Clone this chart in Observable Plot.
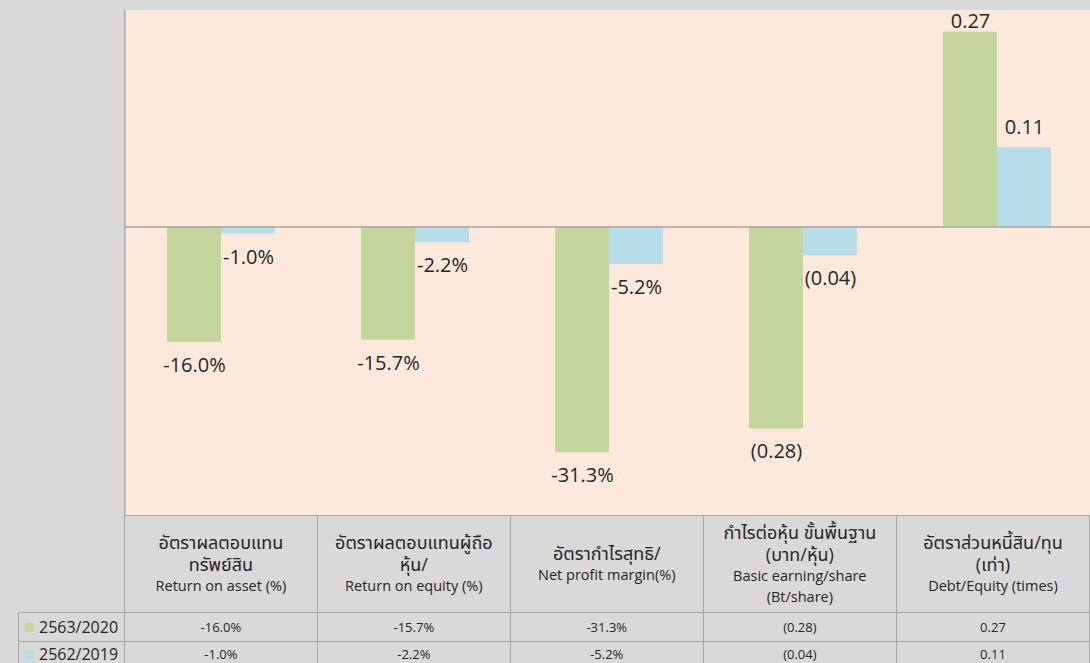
<!DOCTYPE html>
<html>
<head>
<meta charset="utf-8">
<script src="https://cdn.jsdelivr.net/npm/d3@7"></script>
<script src="https://cdn.jsdelivr.net/npm/@observablehq/plot@0.6"></script>
<style>
  html, body { margin: 0; padding: 0; }
  body { width: 1090px; height: 663px; overflow: hidden; background: #d9d9d9; position: relative;
         font-family: "Open Sans", "Noto Sans", "Noto Sans Thai", sans-serif; color: #262626; }
  #plotarea { position: absolute; left: 124px; top: 10px; width: 970px; height: 505px;
              background: #fde9db; box-shadow: inset 1.5px 0 0 #a6a6a6; }
  #plotarea svg { display: block; overflow: visible; }
  #tbl { position: absolute; left: 18px; top: 515px; border-collapse: collapse; table-layout: fixed; }
  #tbl td { border: 1.3px solid #a6a6a6; text-align: center; vertical-align: middle; padding: 0; }
  #tbl td.blank { border: none; border-right: 1.3px solid #a6a6a6; }
  #tbl tr.head td { height: 96px; }
  #tbl tr.row td { height: 28px; font-size: 13px; }
  #tbl tr.row.last td { height: 24px; }
  #tbl tr.row td.leg { text-align: left; padding-left: 6px; font-size: 16px; white-space: nowrap; }
  .sw { display: inline-block; width: 9px; height: 9px; margin-right: 5px; vertical-align: 1px; }
  .th { font-size: 18px; line-height: 22px; display: block; font-weight: normal; }
  .en { font-size: 14.5px; line-height: 21.5px; display: block; }
</style>
</head>
<body>
<div id="plotarea"></div>
<table id="tbl"></table>
<script>
// ---- data ----
const categoriesEn = ["Return on asset (%)", "Return on equity (%)", "Net profit margin(%)", "Basic earning/share", "Debt/Equity (times)"];
const headerThai = [["อัตราผลตอบแทน", "ทรัพย์สิน"], ["อัตราผลตอบแทนผู้ถือ", "หุ้น/"], ["อัตรากำไรสุทธิ/"], ["กำไรต่อหุ้น ขั้นพื้นฐาน", "(บาท/หุ้น)"], ["อัตราส่วนหนี้สิน/ทุน", "(เท่า)"]];
const headerEnExtra = [[], [], [], ["(Bt/share)"], []];
const series = ["2563/2020", "2562/2019"];
const values2020 = [-0.160, -0.157, -0.313, -0.28, 0.27];
const values2019 = [-0.010, -0.022, -0.052, -0.04, 0.11];
const labels2020 = ["-16.0%", "-15.7%", "-31.3%", "(0.28)", "0.27"];
const labels2019 = ["-1.0%", "-2.2%", "-5.2%", "(0.04)", "0.11"];
const colors = ["#c4d69b", "#b7dee8"];

const data = [];
categoriesEn.forEach((c, i) => {
  data.push({cat: c, series: series[0], value: values2020[i], label: labels2020[i]});
  data.push({cat: c, series: series[1], value: values2019[i], label: labels2019[i]});
});

const chart = Plot.plot({
  width: 970,
  height: 505,
  margin: 0,
  fx: {domain: categoriesEn, padding: 0, axis: null},
  x: {domain: series, paddingInner: 0, paddingOuter: 0.764, axis: null},
  y: {domain: [-0.4, 0.3], axis: null},
  color: {domain: series, range: colors},
  style: {background: "transparent", overflow: "visible"},
  marks: [
    Plot.barY(data, {fx: "cat", x: "series", y: "value", fill: "series"}),
    Plot.ruleY([0], {stroke: "#a6a6a6", strokeWidth: 1.5}),
    Plot.text(data, {
      fx: "cat", x: "series",
      y: d => d.value < 0 ? d.value - 0.032 : Math.min(d.value + 0.028, 0.285),
      text: "label", fill: "#262626", fontSize: 20,
      fontFamily: "'Open Sans', sans-serif"
    })
  ]
});
document.getElementById("plotarea").appendChild(chart);

// ---- data table ----
const tbl = document.getElementById("tbl");
let html = '<colgroup><col style="width:106px">' + categoriesEn.map(() => '<col style="width:194px">').join("") + '</colgroup>';
html += '<tr class="head"><td class="blank"></td>' + categoriesEn.map((c, i) =>
  '<td>' + headerThai[i].map(t => '<span class="th">' + t + '</span>').join("") +
  '<span class="en">' + c + '</span>' +
  headerEnExtra[i].map(t => '<span class="en">' + t + '</span>').join("") + '</td>').join("") + '</tr>';
const labelRows = [labels2020, labels2019];
series.forEach((s, k) => {
  html += '<tr class="row' + (k === series.length - 1 ? ' last' : '') + '"><td class="leg"><span class="sw" style="background:' + colors[k] + '"></span>' + s + '</td>' +
    labelRows[k].map(l => '<td>' + l + '</td>').join("") + '</tr>';
});
tbl.innerHTML = html;
</script>
</body>
</html>
